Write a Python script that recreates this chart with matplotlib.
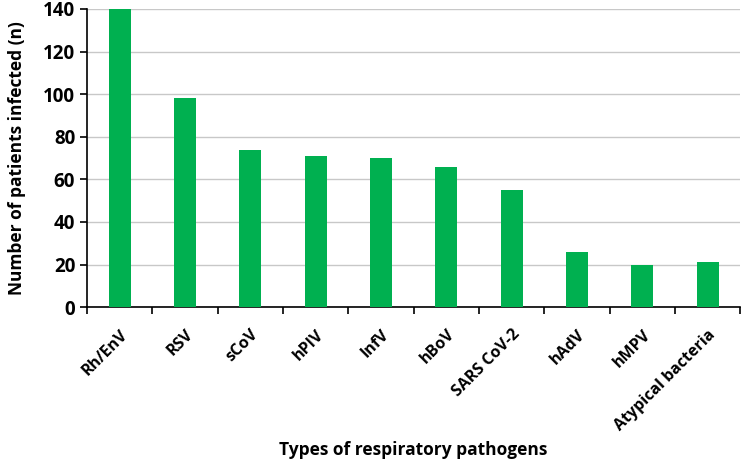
import numpy as np
import matplotlib.pyplot as plt

# datos
patogenos = ['Rh/EnV', 'RSV', 'sCoV', 'hPIV', 'InfV', 'hBoV',
             'SARS CoV-2', 'hAdV', 'hMPV', 'Atypical bacteria']
pacientes = [140, 98, 74, 71, 70, 66, 55, 26, 20, 21]

plt.rcParams['font.family'] = ['Open Sans', 'DejaVu Sans']
plt.rcParams['font.weight'] = 'bold'

fig = plt.figure(figsize=(7.44, 4.71), dpi=100)
ax = fig.add_axes([0.117, 0.348, 0.878, 0.633])

x = np.arange(len(patogenos))
ax.bar(x, pacientes, width=0.34, color='#00B050', zorder=3)

ax.set_xlim(-0.5, len(patogenos) - 0.5)
ax.set_ylim(0, 140)
ax.set_yticks(np.arange(0, 141, 20))
ax.set_yticklabels([str(v) for v in range(0, 141, 20)],
                   fontsize=13.5, fontweight='bold')
ax.tick_params(axis='y', length=5, width=1.2)

# marcas del eje x entre categorías (estilo Excel)
ax.set_xticks(np.arange(-0.5, len(patogenos)), minor=False)
ax.set_xticklabels([])
ax.set_xticks(x, minor=True)
ax.set_xticklabels(patogenos, minor=True, rotation=45, ha='right',
                   rotation_mode='anchor', fontsize=11.5, fontweight='bold')
ax.tick_params(axis='x', which='major', length=5, width=1.2)
ax.tick_params(axis='x', which='minor', length=0, pad=14)

ax.grid(axis='y', color='#C8C8C8', linewidth=1, zorder=0)
for s in ['top', 'right']:
    ax.spines[s].set_visible(False)
for s in ['left', 'bottom']:
    ax.spines[s].set_linewidth(1.2)

ax.set_ylabel('Number of patients infected (n)', fontsize=12.5,
              fontweight='bold', labelpad=12)
fig.text(0.555, 0.045, 'Types of respiratory pathogens', ha='center',
         va='center', fontsize=12.5, fontweight='bold')

fig.savefig('out.png', dpi=100)
